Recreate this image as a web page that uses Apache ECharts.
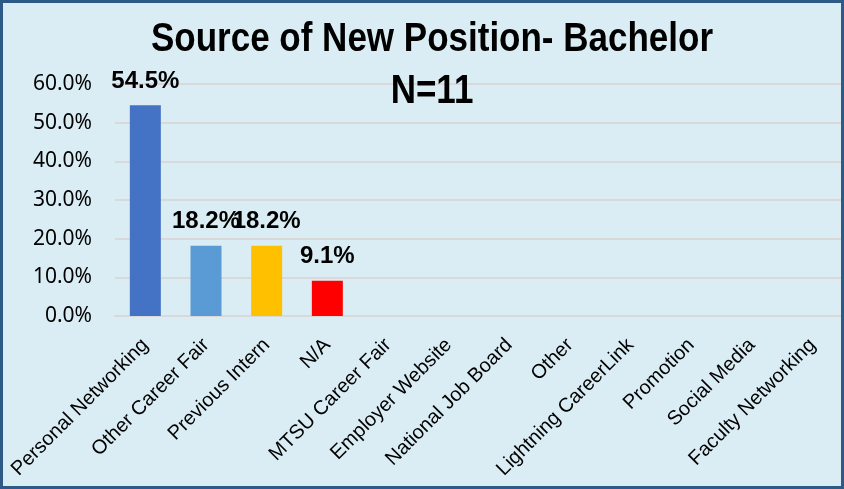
<!DOCTYPE html>
<html>
<head>
<meta charset="utf-8">
<script src="https://cdn.jsdelivr.net/npm/echarts@6/dist/echarts.min.js"></script>
<style>
  body { margin: 0; }
  #wrap { position: relative; width: 844px; height: 489px; }
  #chart { width: 844px; height: 489px; background: #dbedf4; }
  #frame { position: absolute; left: 0; top: 0; width: 844px; height: 489px; box-sizing: border-box; border: 3px solid #2e5a88; pointer-events: none; }
</style>
</head>
<body>
<div id="wrap">
  <div id="chart"></div>
  <div id="frame"></div>
</div>
<script>
var titleText = 'Source of New Position- Bachelor\nN=11';
var categories = ['Personal Networking', 'Other Career Fair', 'Previous Intern', 'N/A',
  'MTSU Career Fair', 'Employer Website', 'National Job Board', 'Other',
  'Lightning CareerLink', 'Promotion', 'Social Media', 'Faculty Networking'];
var percents = [54.5, 18.2, 18.2, 9.1, 0, 0, 0, 0, 0, 0, 0, 0];
var barColors = ['#4472c4', '#5b9bd5', '#ffc000', '#ff0000', '#a5a5a5', '#70ad47',
  '#264478', '#9e480e', '#636363', '#997300', '#255e91', '#43682b'];

var chart = echarts.init(document.getElementById('chart'));
chart.setOption({
  backgroundColor: '#dbedf4',
  animation: false,
  // title drawn as a condensed text so it fits like the original narrow font
  graphic: [{
    type: 'text',
    x: 432,
    y: 14,
    z: 100,
    scaleX: 0.875,
    style: {
      text: titleText,
      font: 'bold 40px "Liberation Sans", Arial',
      align: 'center',
      lineHeight: 52,
      fill: '#000'
    }
  }],
  grid: { left: 115, right: 1, top: 84, bottom: 173 },
  xAxis: {
    type: 'category',
    data: categories,
    axisLine: { lineStyle: { color: '#d9d9d9', width: 2 } },
    axisTick: { show: false },
    axisLabel: {
      interval: 0,
      rotate: 45,
      margin: 26,
      fontFamily: '"Liberation Sans", Arial',
      fontSize: 20,
      color: '#000'
    }
  },
  yAxis: {
    type: 'value',
    min: 0,
    max: 60,
    interval: 10,
    axisLine: { show: false },
    axisTick: { show: false },
    splitLine: { lineStyle: { color: '#d9d9d9', width: 2 } },
    axisLabel: {
      margin: 23,
      fontFamily: '"Noto Sans"',
      fontSize: 21,
      color: '#000',
      formatter: function (v) { return v.toFixed(1) + '%'; }
    }
  },
  series: [{
    type: 'bar',
    barWidth: 31,
    data: percents.map(function (v, i) {
      return { value: v, itemStyle: { color: barColors[i] } };
    }),
    label: {
      show: true,
      position: 'top',
      distance: 12,
      fontFamily: '"Liberation Sans", Arial',
      fontWeight: 'bold',
      fontSize: 24,
      color: '#000',
      formatter: function (p) { return p.value ? p.value.toFixed(1) + '%' : ''; }
    }
  }]
});
</script>
</body>
</html>
